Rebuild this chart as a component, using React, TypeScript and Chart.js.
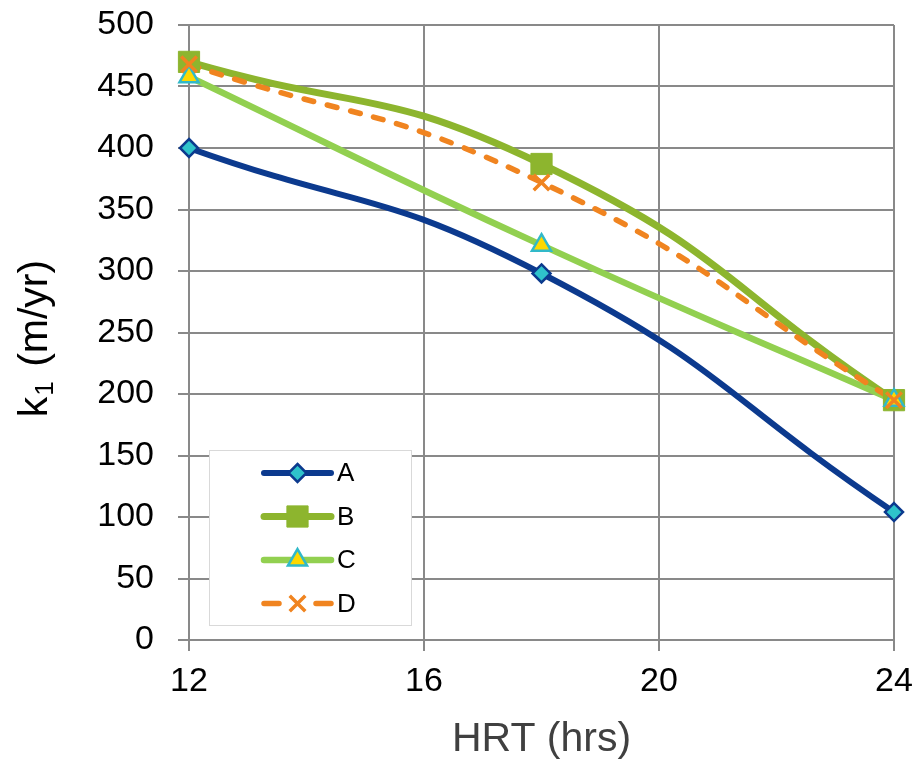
import React, { useEffect, useRef } from 'react';
import { Chart, registerables } from 'chart.js';

Chart.register(...registerables);

// ---- data ----
const hrtValues = [12, 18, 24];
const seriesNames = ['A', 'B', 'C', 'D'];
const valuesA = [400, 298, 104];
const valuesB = [470, 387, 195];
const valuesC = [458, 321, 195];
const valuesD = [468, 372, 195];
const xTickStep = 4;
const xMin = 12;
const xMax = 24;
const yMin = 0;
const yMax = 500;
const yTickStep = 50;
const xTitle = 'HRT (hrs)';
const yTitleMain = 'k';
const yTitleSub = '1';
const yTitleRest = ' (m/yr)';

const FONT = '"Liberation Sans", Arial, sans-serif';
const GRID = '#898989';

type SeriesStyle = {
  line: string;
  width: number;
  dash: number[];
  marker: string;
  radius: number;
  fill: string;
  stroke: string;
  markerBorder: number;
};

const styles: SeriesStyle[] = [
  { line: '#0c3a8e', width: 6, dash: [], marker: 'rectRot', radius: 9, fill: '#2fc3cb', stroke: '#0c3a8e', markerBorder: 2.5 },
  { line: '#8db52e', width: 7, dash: [], marker: 'rect', radius: 15, fill: '#8db52e', stroke: '#8db52e', markerBorder: 1 },
  { line: '#92d050', width: 6.5, dash: [], marker: 'triangle', radius: 11, fill: '#ffd800', stroke: '#31b9c9', markerBorder: 2.5 },
  { line: '#f08420', width: 5.5, dash: [10, 14], marker: 'crossRot', radius: 11, fill: '#f08420', stroke: '#f08420', markerBorder: 3.5 },
];

const seriesValues = [valuesA, valuesB, valuesC, valuesD];

function drawMarker(ctx: CanvasRenderingContext2D, s: SeriesStyle, x: number, y: number) {
  const r = s.radius;
  ctx.save();
  ctx.setLineDash([]);
  ctx.fillStyle = s.fill;
  ctx.strokeStyle = s.stroke;
  ctx.lineWidth = s.markerBorder;
  ctx.beginPath();
  if (s.marker === 'rectRot') {
    ctx.moveTo(x, y - r);
    ctx.lineTo(x + r, y);
    ctx.lineTo(x, y + r);
    ctx.lineTo(x - r, y);
    ctx.closePath();
    ctx.fill();
    ctx.stroke();
  } else if (s.marker === 'rect') {
    const h = r * Math.SQRT1_2;
    ctx.rect(x - h, y - h, 2 * h, 2 * h);
    ctx.fill();
    ctx.stroke();
  } else if (s.marker === 'triangle') {
    const a = (2 * Math.PI) / 3;
    ctx.moveTo(x, y - r);
    ctx.lineTo(x + Math.sin(a) * r, y - Math.cos(a) * r);
    ctx.lineTo(x + Math.sin(2 * a) * r, y - Math.cos(2 * a) * r);
    ctx.closePath();
    ctx.fill();
    ctx.stroke();
  } else {
    const d = r * Math.SQRT1_2;
    ctx.moveTo(x - d, y - d);
    ctx.lineTo(x + d, y + d);
    ctx.moveTo(x + d, y - d);
    ctx.lineTo(x - d, y + d);
    ctx.stroke();
  }
  ctx.restore();
}

const overlayPlugin = {
  id: 'overlay',
  afterDraw(chart: any) {
    const ctx: CanvasRenderingContext2D = chart.ctx;
    const area = chart.chartArea;
    ctx.save();

    // legend box
    const bx = area.left + 20;
    const bw = 202;
    const bh = 175;
    const by = area.bottom - 15 - bh;
    ctx.fillStyle = '#ffffff';
    ctx.fillRect(bx, by, bw, bh);
    ctx.strokeStyle = '#d9d9d9';
    ctx.lineWidth = 1;
    ctx.strokeRect(bx + 0.5, by + 0.5, bw, bh);

    const rowY0 = by + 23;
    const rowGap = 43.5;
    const lx0 = bx + 55;
    const lx1 = bx + 122;
    seriesNames.forEach((name, i) => {
      const s = styles[i];
      const y = rowY0 + i * rowGap;
      ctx.save();
      ctx.strokeStyle = s.line;
      ctx.lineWidth = s.width;
      ctx.lineCap = 'round';
      ctx.beginPath();
      if (s.dash.length) {
        ctx.moveTo(lx0, y);
        ctx.lineTo(lx0 + 15, y);
        ctx.moveTo(lx1 - 15, y);
        ctx.lineTo(lx1, y);
      } else {
        ctx.moveTo(lx0, y);
        ctx.lineTo(lx1, y);
      }
      ctx.stroke();
      ctx.restore();
      drawMarker(ctx, s, (lx0 + lx1) / 2, y);
      ctx.fillStyle = '#000000';
      ctx.font = `26px ${FONT}`;
      ctx.textAlign = 'left';
      ctx.textBaseline = 'middle';
      ctx.fillText(name, lx1 + 6, y + 1);
    });

    // x title
    ctx.fillStyle = '#404040';
    ctx.font = `41px ${FONT}`;
    ctx.textAlign = 'center';
    ctx.textBaseline = 'alphabetic';
    ctx.fillText(xTitle, (area.left + area.right) / 2, 751);

    // y title (rotated, with subscript)
    ctx.save();
    ctx.translate(36, (area.top + area.bottom) / 2 + 6);
    ctx.rotate(-Math.PI / 2);
    ctx.textBaseline = 'middle';
    ctx.textAlign = 'left';
    ctx.fillStyle = '#000000';
    const bigFont = `41px ${FONT}`;
    const smallFont = `26px ${FONT}`;
    ctx.font = bigFont;
    const wMain = ctx.measureText(yTitleMain).width;
    const wRest = ctx.measureText(yTitleRest).width;
    ctx.font = smallFont;
    const wSub = ctx.measureText(yTitleSub).width;
    const total = wMain + wSub + wRest + 4;
    let cx = -total / 2;
    ctx.font = bigFont;
    ctx.fillText(yTitleMain, cx, 0);
    cx += wMain + 1;
    ctx.font = smallFont;
    ctx.fillText(yTitleSub, cx, 10);
    cx += wSub + 3;
    ctx.font = bigFont;
    ctx.fillText(yTitleRest, cx, 0);
    ctx.restore();

    ctx.restore();
  },
};

const markerPlugin = {
  id: 'markers',
  afterDatasetsDraw(chart: any) {
    const ctx: CanvasRenderingContext2D = chart.ctx;
    const xs = chart.scales.x;
    const ys = chart.scales.y;
    seriesValues.forEach((vals, i) => {
      hrtValues.forEach((h, j) => {
        drawMarker(ctx, styles[i], xs.getPixelForValue(h), ys.getPixelForValue(vals[j]));
      });
    });
  },
};

export default function App() {
  const ref = useRef<HTMLCanvasElement | null>(null);

  useEffect(() => {
    if (!ref.current) return;
    const datasets = seriesNames.map((name, i) => ({
      label: name,
      data: hrtValues.map((x, j) => ({ x, y: seriesValues[i][j] })),
      borderColor: styles[i].line,
      backgroundColor: styles[i].fill,
      borderWidth: styles[i].width,
      borderDash: styles[i].dash,
      borderCapStyle: 'round' as const,
      borderJoinStyle: 'round' as const,
      tension: 0.5,
      pointRadius: 0,
      fill: false,
      order: 3 - i,
    }));

    const chart = new Chart(ref.current, {
      type: 'line',
      data: { datasets },
      options: {
        responsive: false,
        animation: false,
        layout: { padding: { top: 25, right: 30, left: 0, bottom: 0 } },
        plugins: {
          legend: { display: false },
          tooltip: { enabled: false },
        },
        scales: {
          x: {
            type: 'linear',
            min: xMin,
            max: xMax,
            ticks: {
              stepSize: xTickStep,
              color: '#000000',
              font: { family: FONT, size: 34 },
              padding: 10,
            },
            grid: { color: GRID, lineWidth: 2, tickLength: 11, tickColor: GRID, drawTicks: true },
            border: { display: true, color: GRID, width: 2 },
            afterFit: (scale: any) => {
              scale.height = 122;
              scale.paddingLeft = 0;
              scale.paddingRight = 0;
            },
          },
          y: {
            type: 'linear',
            min: yMin,
            max: yMax,
            ticks: {
              stepSize: yTickStep,
              color: '#000000',
              font: { family: FONT, size: 34 },
              padding: 24,
            },
            grid: { color: GRID, lineWidth: 2, tickLength: 11, tickColor: GRID, drawTicks: true },
            border: { display: true, color: GRID, width: 2 },
            afterFit: (scale: any) => {
              scale.width = 189;
              scale.paddingTop = 0;
              scale.paddingBottom = 0;
            },
          },
        },
      },
      plugins: [markerPlugin, overlayPlugin],
    });
    return () => chart.destroy();
  }, []);

  return (
    <div style={{ position: 'absolute', left: 0, top: 0, width: 924, height: 762, background: '#ffffff' }}>
      <canvas ref={ref} width={924} height={762} style={{ display: 'block' }} />
    </div>
  );
}
